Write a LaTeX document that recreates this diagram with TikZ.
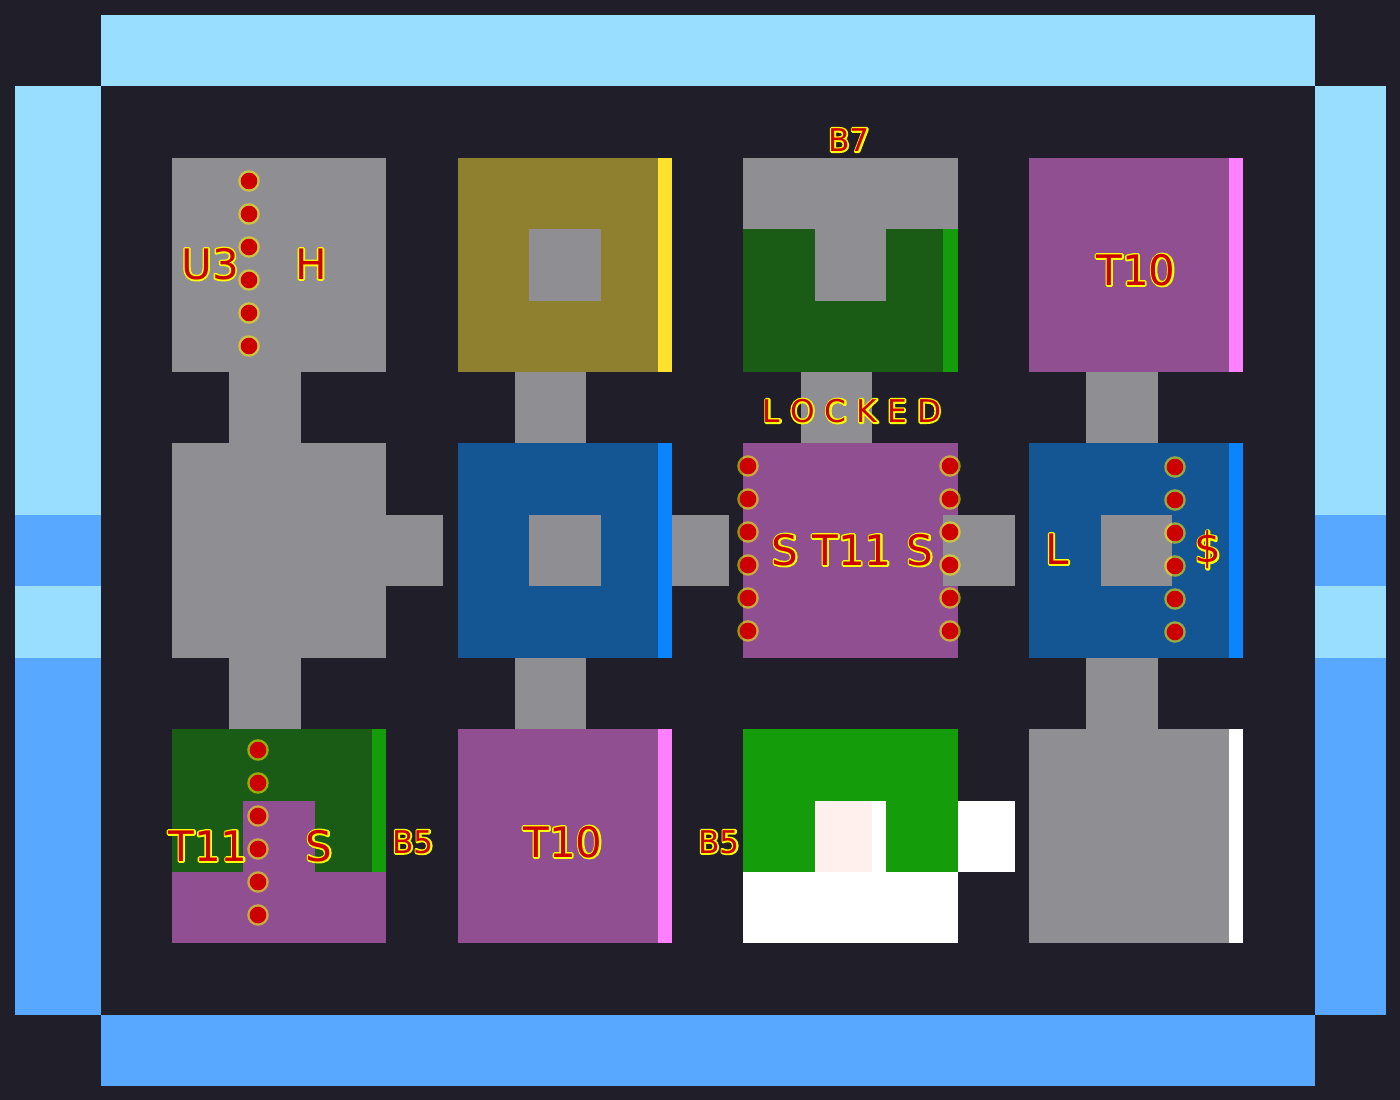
\documentclass[tikz,border=0pt]{standalone}
\usepackage{fontspec}
\usepackage{xcolor}
\setmainfont{DejaVu Sans}

\definecolor{bgdark}{HTML}{201E28}
\definecolor{walllight}{HTML}{99DDFF}
\definecolor{wallmid}{HTML}{58A8FF}
\definecolor{floorgray}{HTML}{8F8E93}
\definecolor{olive}{HTML}{8F8030}
\definecolor{lamp}{HTML}{FFE22E}
\definecolor{deepblue}{HTML}{145594}
\definecolor{brightblue}{HTML}{0A84FF}
\definecolor{plum}{HTML}{8F4F91}
\definecolor{pinkbar}{HTML}{FF80FF}
\definecolor{darkgreen}{HTML}{1A5C16}
\definecolor{brightgreen}{HTML}{149C0A}
\definecolor{paleblush}{HTML}{FFF0EE}
\definecolor{markred}{HTML}{CC0000}

% yellow stroked glyphs under the red ones
\newcommand{\glow}[1]{\rlap{\special{pdf:code 1 1 0 RG 1 Tr 1 j 2.4 w}#1\special{pdf:code 0 Tr}}#1}

\begin{document}
\begin{tikzpicture}[
  x=0.75pt, y=-0.75pt,
  bigtag/.style={font=\fontsize{31.5}{36}\selectfont, text=markred, inner sep=0pt},
  smalltag/.style={font=\fontsize{23.5}{28}\selectfont, text=markred, inner sep=0pt},
  dotmark/.style={circle, fill=markred, minimum size=12.5pt, inner sep=0pt,
    preaction={draw=yellow, draw opacity=0.55, line width=3.6pt}},
]
\useasboundingbox (0,0) rectangle (1400,1100);
\fill[bgdark] (0,0) rectangle (1400,1100);

%% ---- Outer walls ----
\fill[walllight] (101,15) rectangle (1315,86);
\fill[wallmid] (101,1015) rectangle (1315,1086);
\foreach \wx/\wr in {15/101,1315/1386} {
  \fill[walllight] (\wx,86) rectangle (\wr,515);
  \fill[wallmid] (\wx,515) rectangle (\wr,586);
  \fill[walllight] (\wx,586) rectangle (\wr,658);
  \fill[wallmid] (\wx,658) rectangle (\wr,1015);
}

%% ---- Corridors ----
\fill[floorgray] (229,372) rectangle (301,443);
\fill[floorgray] (229,658) rectangle (301,729);
\fill[floorgray] (386,515) rectangle (443,586);
\fill[floorgray] (515,372) rectangle (586,443);
\fill[floorgray] (515,658) rectangle (586,729);
\fill[floorgray] (672,515) rectangle (729,586);
\fill[floorgray] (801,372) rectangle (872,443);
\fill[floorgray] (1086,372) rectangle (1158,443);
\fill[floorgray] (1086,658) rectangle (1158,729);

%% ---- Column 1 ----
\fill[floorgray] (172,158) rectangle (386,372);
\fill[floorgray] (172,443) rectangle (386,658);
\fill[darkgreen] (172,729) rectangle (372,872);
\fill[brightgreen] (372,729) rectangle (386,872);
\fill[plum] (172,872) rectangle (386,943);
\fill[plum] (243,801) rectangle (315,872);

%% ---- Column 2 ----
\fill[olive] (458,158) rectangle (658,372);
\fill[lamp] (658,158) rectangle (672,372);
\fill[floorgray] (529,229) rectangle (601,301);
\fill[deepblue] (458,443) rectangle (658,658);
\fill[brightblue] (658,443) rectangle (672,658);
\fill[floorgray] (529,515) rectangle (601,586);
\fill[plum] (458,729) rectangle (658,943);
\fill[pinkbar] (658,729) rectangle (672,943);

%% ---- Column 3 ----
\fill[floorgray] (743,158) rectangle (958,229);
\fill[darkgreen] (743,229) rectangle (943,372);
\fill[brightgreen] (943,229) rectangle (958,372);
\fill[floorgray] (815,229) rectangle (886,301);
\fill[plum] (743,443) rectangle (958,658);
\fill[floorgray] (943,515) rectangle (1015,586);
\fill[brightgreen] (743,729) rectangle (958,872);
\fill[white] (743,872) rectangle (958,943);
\fill[white] (815,801) rectangle (886,872);
\fill[paleblush] (815,801) rectangle (872,872);
\fill[white] (958,801) rectangle (1015,872);

%% ---- Column 4 ----
\fill[plum] (1029,158) rectangle (1229,372);
\fill[pinkbar] (1229,158) rectangle (1243,372);
\fill[deepblue] (1029,443) rectangle (1229,658);
\fill[brightblue] (1229,443) rectangle (1243,658);
\fill[floorgray] (1101,515) rectangle (1172,586);
\fill[floorgray] (1029,729) rectangle (1229,943);
\fill[white] (1229,729) rectangle (1243,943);

%% ---- Dot columns ----
\foreach \i/\dy in {1/0,2/33,3/66,4/99,5/132,6/165} {
  \node[dotmark] (dota\i) at (249,181+\dy) {};
  \node[dotmark] (dotb\i) at (748,466+\dy) {};
  \node[dotmark] (dotc\i) at (950,466+\dy) {};
  \node[dotmark] (dotd\i) at (1175,467+\dy) {};
  \node[dotmark] (dote\i) at (258,750+\dy) {};
}

%% ---- Labels ----
\node[bigtag] (tagu) at (210,264) {\glow{U3}};
\node[bigtag] (tagh) at (311,264) {\glow{H}};
\node[smalltag] (tagbseven) at (849,140) {\glow{B7}};
\node[bigtag] (tagtena) at (1136,270) {\glow{T10}};
\node[smalltag] (taglocked) at (852,411) {\glow{L O C K E D}};
\node[bigtag] (tagsa) at (785,550) {\glow{S}};
\node[bigtag] (tagtela) at (852,550) {\glow{T11}};
\node[bigtag] (tagsb) at (920,550) {\glow{S}};
\node[bigtag] (tagl) at (1057,549) {\glow{L}};
\node[bigtag] (tagdollar) at (1208,550) {\glow{\$}};
\node[bigtag] (tagtelb) at (208,846) {\glow{T11}};
\node[bigtag] (tagsc) at (319,846) {\glow{S}};
\node[smalltag] (tagbfa) at (413,842) {\glow{B5}};
\node[bigtag] (tagtenb) at (563,842) {\glow{T10}};
\node[smalltag] (tagbfb) at (719,842) {\glow{B5}};

\end{tikzpicture}
\end{document}
